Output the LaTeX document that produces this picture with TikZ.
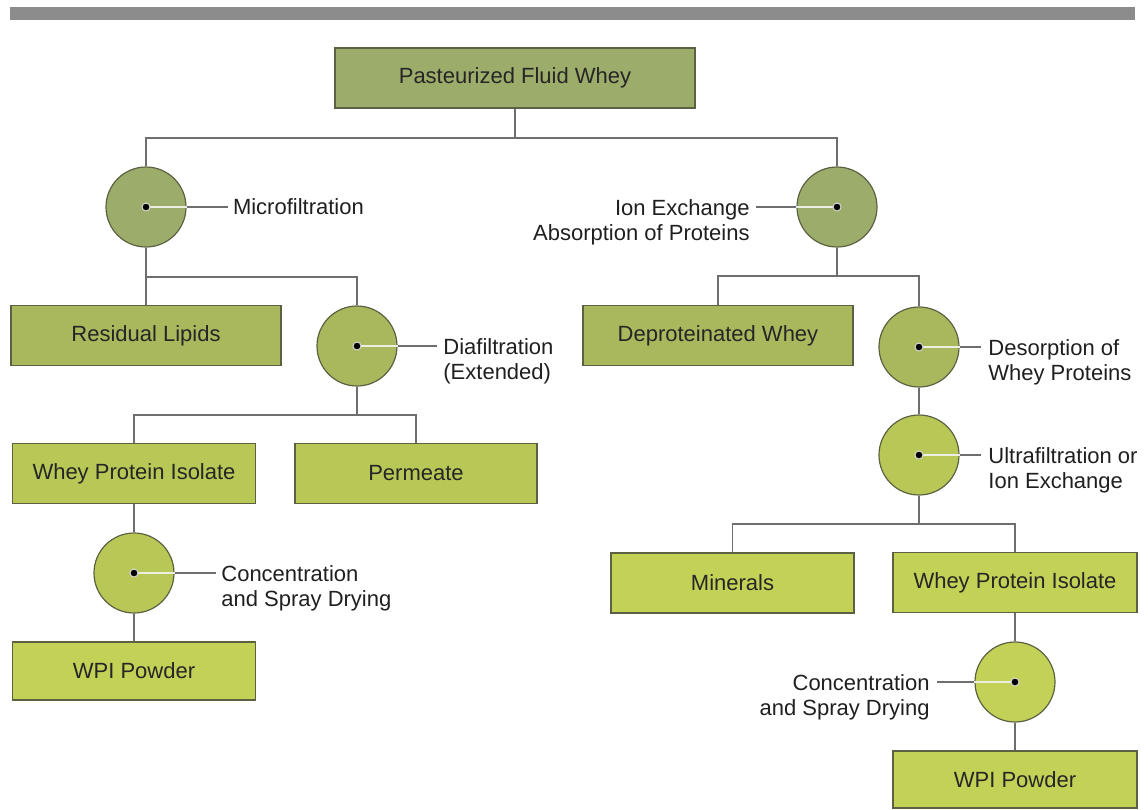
\documentclass[tikz,border=0pt]{standalone}
\usepackage{xcolor}
\usepackage{fontspec}
\setmainfont{Liberation Sans}
\usepackage{tikz}
\usetikzlibrary{positioning}

\definecolor{lvone}{HTML}{9CAC6A}
\definecolor{lvtwo}{HTML}{A9B85D}
\definecolor{lvthree}{HTML}{B9C756}
\definecolor{lvfour}{HTML}{C4D157}
\definecolor{rimcol}{HTML}{5C6142}
\definecolor{linecol}{HTML}{6E6E6E}
\definecolor{barcol}{HTML}{8C8C8C}

\begin{document}
\begin{tikzpicture}[
    x=0.5pt, y=-0.5pt,
    font=\fontsize{11}{12.5}\selectfont,
    box/.style={rectangle, draw=rimcol, line width=0.6pt, text=black!85, minimum height=30pt, inner sep=0pt},
    stage/.style={circle, draw=rimcol, line width=0.6pt, minimum size=40pt, inner sep=0pt},
    lbl/.style={inner sep=0pt, text=black!88},
    link/.style={draw=linecol, line width=0.6pt},
    pale/.style={draw=white!80!lvone, line width=0.6pt}
]
    \useasboundingbox (0,0) rectangle (1148,810);
    \fill[barcol] (10,7) rectangle (1135,20);

    % Nodes
    \node [box, fill=lvone, minimum width=180pt] (whey) at (515,78) {Pasteurized Fluid Whey};
    \node [stage, fill=lvone] (micro) at (146,207) {};
    \node [stage, fill=lvone] (ionx) at (837,207) {};
    \node [box, fill=lvtwo, minimum width=135pt] (lipids) at (146,335.5) {Residual Lipids};
    \node [stage, fill=lvtwo] (diaf) at (357,346) {};
    \node [box, fill=lvtwo, minimum width=135pt] (deprot) at (718,335.5) {Deproteinated Whey};
    \node [stage, fill=lvtwo] (desorp) at (919,347) {};
    \node [stage, fill=lvthree] (ultra) at (919,455) {};
    \node [box, fill=lvthree, minimum width=121.5pt] (wpiL) at (134,473.5) {Whey Protein Isolate};
    \node [box, fill=lvthree, minimum width=121pt] (perm) at (416,473.5) {Permeate};
    \node [stage, fill=lvthree] (concL) at (134,573) {};
    \node [box, fill=lvfour, minimum width=121.5pt, minimum height=29pt] (powderL) at (134,671) {WPI Powder};
    \node [box, fill=lvfour, minimum width=121.5pt] (minerals) at (732.5,583) {Minerals};
    \node [box, fill=lvfour, minimum width=122pt] (wpiR) at (1015,582.5) {Whey Protein Isolate};
    \node [stage, fill=lvfour] (concR) at (1015,682) {};
    \node [box, fill=lvfour, minimum width=122pt, minimum height=28.5pt] (powderR) at (1015,779.5) {WPI Powder};

    % Labels
    \node [lbl, right=23pt of micro] (microlbl) {Microfiltration};
    \node [lbl, align=right, anchor=north east] (ionlbl) at (750,199) {Ion Exchange\\Absorption of Proteins};
    \node [lbl, align=left, anchor=north west] (diaflbl) at (443,338) {Diafiltration\\(Extended)};
    \node [lbl, align=left, anchor=north west] (desorplbl) at (988,339) {Desorption of\\Whey Proteins};
    \node [lbl, align=left, anchor=north west] (ultralbl) at (988,447) {Ultrafiltration or\\Ion Exchange};
    \node [lbl, align=left, anchor=north west] (concLlbl) at (221,565) {Concentration\\and Spray Drying};
    \node [lbl, align=right, anchor=north east] (concRlbl) at (930,674) {Concentration\\and Spray Drying};

    % Junctions
    \coordinate (topfork) at (515,138);
    \coordinate (microfork) at (146,277);
    \coordinate (ionfork) at (837,276);
    \coordinate (diaffork) at (357,415);
    \coordinate (ultrafork) at (919,524);

    % Lines
    \draw [link] (whey.south) -- (topfork);
    \draw [link] (micro.north) |- (topfork) -| (ionx.north);
    \draw [link] (micro.south) -- (lipids.north);
    \draw [link] (microfork) -| (diaf.north);
    \draw [link] (ionx.south) -- (ionfork);
    \draw [link] (deprot.north) |- (ionfork) -| (desorp.north);
    \draw [link] (diaf.south) -- (diaffork);
    \draw [link] (wpiL.north) |- (diaffork) -| (perm.north);
    \draw [link] (wpiL.south) -- (concL.north);
    \draw [link] (concL.south) -- (powderL.north);
    \draw [link] (desorp.south) -- (ultra.north);
    \draw [link] (ultra.south) -- (ultrafork);
    \draw [link] (minerals.north) |- (ultrafork) -| (wpiR.north);
    \draw [link] (wpiR.south) -- (concR.north);
    \draw [link] (concR.south) -- (powderR.north);

    % Label lines
    \draw [link, shorten >=2.5pt] (micro.east) -- (microlbl.west);
    \draw [link, shorten >=3pt] (ionx.west) -- (ionlbl.east |- ionx.center);
    \draw [link, shorten >=3pt] (diaf.east) -- (diaflbl.west |- diaf.center);
    \draw [link, shorten >=3.5pt] (desorp.east) -- (desorplbl.west |- desorp.center);
    \draw [link, shorten >=3.5pt] (ultra.east) -- (ultralbl.west |- ultra.center);
    \draw [link, shorten >=2.5pt] (concL.east) -- (concLlbl.west |- concL.center);
    \draw [link, shorten >=3.5pt] (concR.west) -- (concRlbl.east |- concR.center);
    \draw [pale] (micro.center) -- (micro.east);
    \draw [pale] (ionx.center) -- (ionx.west);
    \draw [pale] (diaf.center) -- (diaf.east);
    \draw [pale] (desorp.center) -- (desorp.east);
    \draw [pale] (ultra.center) -- (ultra.east);
    \draw [pale] (concL.center) -- (concL.east);
    \draw [pale] (concR.center) -- (concR.west);

    % Hubs
    \foreach \s in {micro,ionx,diaf,desorp,ultra,concL,concR}
        \filldraw [draw=white!85!black, line width=0.5pt, fill=black] (\s.center) circle (2pt);
\end{tikzpicture}
\end{document}
